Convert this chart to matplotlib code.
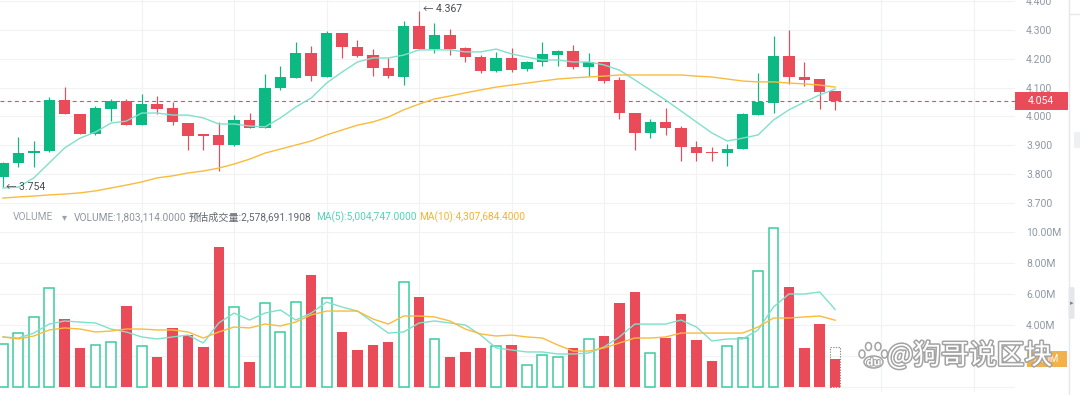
import numpy as np
import matplotlib
matplotlib.use("Agg")
import matplotlib.pyplot as plt
from matplotlib.patches import Rectangle, Ellipse, FancyBboxPatch
import matplotlib.transforms as mtransforms
import matplotlib.patheffects as pe

plt.rcParams['font.family'] = ['Roboto', 'Noto Sans CJK SC', 'DejaVu Sans']

# ---------------- data ----------------
opens = [3.790, 3.839, 3.873, 3.880, 4.057, 4.009, 3.939, 4.026, 4.054, 3.970,
         4.043, 4.029, 3.977, 3.939, 3.936, 3.901, 3.988, 3.960, 4.099, 4.134,
         4.220, 4.137, 4.290, 4.241, 4.213, 4.168, 4.137, 4.314, 4.234, 4.283,
         4.238, 4.206, 4.158, 4.203, 4.165, 4.189, 4.213, 4.227, 4.172, 4.189,
         4.127, 4.012, 3.943, 3.981, 3.960, 3.894, 3.877, 3.873, 3.887, 4.005,
         4.047, 4.210, 4.137, 4.130, 4.088]
highs = [3.842, 3.929, 3.915, 4.068, 4.102, 4.009, 4.036, 4.061, 4.061, 4.078,
         4.071, 4.050, 3.977, 3.939, 3.981, 4.005, 4.012, 4.147, 4.175, 4.258,
         4.245, 4.297, 4.290, 4.265, 4.234, 4.203, 4.331, 4.367, 4.324, 4.303,
         4.241, 4.213, 4.224, 4.238, 4.192, 4.258, 4.231, 4.248, 4.220, 4.189,
         4.137, 4.012, 3.991, 4.029, 3.967, 3.915, 3.894, 3.905, 4.012, 4.151,
         4.279, 4.300, 4.189, 4.130, 4.088]
lows = [3.754, 3.825, 3.825, 3.877, 4.009, 3.939, 3.936, 3.984, 3.970, 3.970,
        4.009, 3.970, 3.884, 3.884, 3.811, 3.898, 3.960, 3.960, 4.092, 4.134,
        4.123, 4.137, 4.203, 4.206, 4.140, 4.134, 4.109, 4.234, 4.220, 4.213,
        4.189, 4.151, 4.154, 4.154, 4.158, 4.175, 4.175, 4.165, 4.140, 4.116,
        3.991, 3.884, 3.925, 3.936, 3.846, 3.846, 3.846, 3.828, 3.887, 4.005,
        4.012, 4.113, 4.106, 4.026, 4.023]
closes = [3.839, 3.873, 3.880, 4.057, 4.009, 3.939, 4.029, 4.054, 3.970, 4.043,
          4.026, 3.981, 3.932, 3.932, 3.901, 3.988, 3.960, 4.099, 4.137, 4.220,
          4.140, 4.290, 4.241, 4.210, 4.168, 4.140, 4.314, 4.234, 4.283, 4.234,
          4.206, 4.158, 4.203, 4.161, 4.189, 4.217, 4.227, 4.172, 4.189, 4.123,
          4.012, 3.943, 3.981, 3.960, 3.894, 3.873, 3.873, 3.887, 4.009, 4.050,
          4.210, 4.137, 4.127, 4.085, 4.054]
ma_fast = [3.752, 3.755, 3.787, 3.839, 3.891, 3.925, 3.946, 3.977, 3.984, 4.012,
           4.012, 4.005, 4.005, 3.995, 3.974, 3.974, 3.967, 3.964, 3.995, 4.033,
           4.064, 4.116, 4.154, 4.189, 4.203, 4.203, 4.213, 4.231, 4.231, 4.231,
           4.224, 4.224, 4.234, 4.217, 4.206, 4.196, 4.196, 4.189, 4.189, 4.179,
           4.161, 4.127, 4.092, 4.057, 4.019, 3.981, 3.943, 3.915, 3.925, 3.936,
           3.988, 4.023, 4.050, 4.075, 4.095]
ma_slow = [3.717, 3.721, 3.724, 3.728, 3.731, 3.735, 3.742, 3.752, 3.762, 3.773,
           3.787, 3.794, 3.804, 3.811, 3.821, 3.835, 3.852, 3.873, 3.887, 3.901,
           3.915, 3.936, 3.953, 3.970, 3.981, 3.998, 4.023, 4.043, 4.061, 4.071,
           4.082, 4.092, 4.102, 4.109, 4.116, 4.123, 4.130, 4.134, 4.137, 4.140,
           4.144, 4.144, 4.144, 4.144, 4.144, 4.140, 4.137, 4.130, 4.123, 4.120,
           4.120, 4.116, 4.113, 4.109, 4.102]
# volumes in millions
volumes = [2.77, 3.48, 4.52, 6.39, 4.39, 2.52, 2.71, 2.90, 5.23, 2.65,
           1.94, 3.81, 3.35, 2.58, 9.03, 5.16, 1.61, 5.42, 3.55, 5.48,
           7.23, 5.74, 3.55, 2.39, 2.71, 2.90, 6.77, 5.81, 3.10, 1.94,
           2.26, 2.52, 2.65, 2.71, 1.42, 2.06, 1.94, 2.52, 3.10, 3.29,
           5.42, 6.13, 2.19, 3.16, 4.71, 3.03, 1.68, 2.65, 3.16, 7.48,
           10.26, 6.45, 2.52, 4.06, 1.803]
vol_ma5 = [3.23, 3.16, 3.48, 4.06, 4.26, 4.19, 4.13, 3.74, 3.55, 3.23,
           3.10, 3.23, 3.35, 2.84, 4.13, 4.77, 4.32, 4.77, 4.97, 4.32,
           4.77, 5.48, 5.16, 4.90, 4.19, 3.48, 3.55, 4.13, 4.26, 4.13,
           4.00, 3.35, 2.52, 2.39, 2.26, 2.26, 2.13, 2.13, 2.19, 2.58,
           3.23, 4.06, 4.06, 4.06, 4.32, 3.87, 2.97, 3.10, 3.10, 3.68,
           5.16, 6.00, 6.00, 6.13, 5.00]
vol_ma10 = [3.23, 3.10, 3.29, 3.68, 3.81, 3.74, 3.55, 3.61, 3.74, 3.74,
            3.68, 3.68, 3.55, 3.16, 3.55, 3.87, 3.81, 4.06, 3.94, 4.19,
            4.65, 4.90, 4.90, 4.90, 4.39, 4.06, 4.58, 4.58, 4.52, 4.26,
            3.74, 3.42, 3.29, 3.35, 3.23, 3.16, 2.71, 2.32, 2.32, 2.52,
            2.84, 3.16, 3.16, 3.23, 3.48, 3.48, 3.48, 3.48, 3.48, 3.87,
            4.45, 4.45, 4.52, 4.58, 4.31]
est_volume = 2.578691
price_ticks = [3.7, 3.8, 3.9, 4.0, 4.1, 4.2, 4.3, 4.4]
vol_ticks = [0, 2, 4, 6, 8, 10]
vol_tick_labels = ['', '', '4.00M', '6.00M', '8.00M', '10.00M']
legend_parts = [("VOLUME", '#9AA1AC'), ("\u25BE", '#9AA1AC'),
                ("VOLUME:1,803,114.0000", '#8D949F'),
                ("预估成交量:2,578,691.1908", '#62676F'),
                ("MA(5):5,004,747.0000", '#52D3B8'),
                ("MA(10):4,307,684.4000", '#F6B330')]
legend_x = [13, 62, 74, 189, 316, 419]
watermark = "@狗哥说区块"

# ---------------- style ----------------
GREEN = '#0CB983'
RED = '#E94B59'
GREEN_V = '#3DCB9E'
TEAL = '#7FE0CB'
ORANGE = '#F9BB3C'
GRID = '#F1F2F4'
TICK = '#8F98A5'

W, H = 1080, 395
fig = plt.figure(figsize=(W / 100, H / 100), dpi=100)
fig.patch.set_facecolor('white')
PLOT_R = 1015


def px_axes(x0, y0, x1, y1):
    return fig.add_axes([x0 / W, 1 - y1 / H, (x1 - x0) / W, (y1 - y0) / H])


ax = px_axes(0, 0, PLOT_R, 208)
axv = px_axes(0, 208, PLOT_R, 392)

n = len(closes)
x = np.arange(n)
o = np.array(opens); c = np.array(closes); h = np.array(highs); l = np.array(lows)
vol = np.array(volumes)
up = c > o

STEP = 15.41
x0 = -3 / STEP
xlim = (x0, x0 + PLOT_R / STEP)
PXPU = 288.3  # pixels per price unit
ax.set_ylim(4.3 - (208 - 30) / PXPU, 4.3 + 30 / PXPU)
VPX = 15.5
axv.set_ylim(-(392 - 387) / VPX, (387 - 208) / VPX)

for a in (ax, axv):
    a.set_xlim(*xlim)
    for s in a.spines.values():
        s.set_visible(False)
    a.set_xticks([])
    a.yaxis.tick_right()
    a.tick_params(axis='y', length=0, pad=8, labelsize=7.5, labelcolor=TICK)
    a.grid(axis='y', color=GRID, lw=0.8, zorder=0)
    a.set_axisbelow(True)
    for gx in range(9, 66, 6):
        a.axvline(gx, color=GRID, lw=0.8, zorder=0)

ax.set_yticks(price_ticks)
ax.set_yticklabels([f"{t:.3f}" for t in price_ticks])
axv.set_yticks(vol_ticks)
axv.set_yticklabels(vol_tick_labels)

# candles
cols = np.where(up, GREEN, RED)
ax.vlines(x, l, h, colors=cols, lw=0.85, zorder=2)
body_bot = np.minimum(o, c)
body_h = np.maximum(np.abs(c - o), 0.0035)
ax.bar(x, body_h, bottom=body_bot, width=0.74, color=cols, lw=0, zorder=3)

# moving averages
ax.plot(x, ma_fast, color=TEAL, lw=1.0, zorder=4)
ax.plot(x, ma_slow, color=ORANGE, lw=1.0, zorder=4)

# last price line and label
last = closes[-1]
ax.axhline(last, color=RED, lw=0.8, ls=(0, (3.5, 3)), zorder=1)
trans = mtransforms.blended_transform_factory(ax.transAxes, ax.transData)
bh = 18 / PXPU
ax.add_patch(Rectangle((1.0, last - bh / 2), 53 / PLOT_R, bh, transform=trans,
                       facecolor=RED, edgecolor='none', clip_on=False, zorder=6))
ax.text(1028 / PLOT_R, last, f"{last:.3f}", transform=trans, color='white',
        fontsize=7.5, va='center', ha='left', clip_on=False, zorder=7)

# high / low markers
ih = int(np.argmax(h)); il = int(np.argmin(l))
ax.annotate(f"\u2190 {h[ih]:.3f}", (ih, h[ih]), xytext=(2.5, 1), textcoords='offset points',
            va='center', ha='left', fontsize=7.5, color='#454A52', zorder=7)
ax.annotate(f"\u2190 {l[il]:.3f}", (il, l[il]), xytext=(2.5, 0), textcoords='offset points',
            va='center', ha='left', fontsize=7.5, color='#454A52', zorder=7)

# volume
axv.bar(n - 1, est_volume, width=0.68, fill=False, edgecolor='#8A8A8A',
        ls=(0, (1.2, 1.2)), lw=0.8, zorder=2)
axv.bar(x[~up], vol[~up], width=0.68, color=RED, lw=0, zorder=3)
axv.bar(x[up], vol[up], width=0.64, facecolor='white', edgecolor=GREEN_V, lw=1.1, zorder=3)
axv.plot(x, vol_ma5, color=TEAL, lw=1.0, zorder=4)
axv.plot(x, vol_ma10, color=ORANGE, lw=1.0, zorder=4)

# current volume label (orange)
vtrans = mtransforms.blended_transform_factory(axv.transAxes, axv.transData)
vbh = 16 / VPX
axv.add_patch(Rectangle(((1027 - PLOT_R) / PLOT_R + 1.0, volumes[-1] - vbh / 2), 40 / PLOT_R, vbh,
                        transform=vtrans, facecolor='#F2B24B', edgecolor='none',
                        clip_on=False, zorder=6))
axv.text(1031 / PLOT_R, volumes[-1], f"{volumes[-1]:.2f}M", transform=vtrans, color='white',
         fontsize=7, va='center', ha='left', clip_on=False, zorder=7)

# legend row
for (txt, col), lx in zip(legend_parts, legend_x):
    fig.text(lx / W, 1 - 217 / H, txt, color=col, fontsize=7.3, va='center', ha='left')

# decorations overlay (watermark, right-edge widgets)
deco = fig.add_axes([0, 0, 1, 1])
deco.set_xlim(0, W); deco.set_ylim(H, 0)
deco.axis('off'); deco.patch.set_visible(False)
deco.plot([1069, 1069], [0, H], color='#E6E8EB', lw=1)
deco.plot([1069, W], [14, 14], color='#E6E8EB', lw=1)
deco.add_patch(Rectangle((1074, 132), 6, 16, facecolor='#EEF0F2', edgecolor='none'))
deco.add_patch(FancyBboxPatch((1068.5, 287), 6, 32, boxstyle='round,pad=0,rounding_size=2',
                              facecolor='#E4E6E9', edgecolor='none'))
deco.text(1071.5, 303, "\u25B8", fontsize=5, color='#80868F', ha='center', va='center',
          family=['DejaVu Sans'])

stroke = [pe.withStroke(linewidth=2.2, foreground='#A3A3A3')]
deco.text(887, 356, watermark, fontsize=20, color='white', ha='left', va='center',
          family=['Noto Sans CJK SC', 'DejaVu Sans'], path_effects=stroke, zorder=10)
# baidu paw
for (ex, ey, ew, eh) in [(862, 354, 6, 8), (868.5, 346.5, 6, 8), (878, 346.5, 6, 8),
                         (884.5, 354, 6, 8)]:
    deco.add_patch(Ellipse((ex, ey), ew, eh, facecolor='white', edgecolor='#A3A3A3', lw=1.1, zorder=10))
deco.add_patch(Ellipse((873.5, 362), 19, 12, facecolor='white', edgecolor='#A3A3A3', lw=1.1, zorder=10))
deco.text(873.5, 362.5, "du", fontsize=7, color='white', ha='center', va='center',
          family=['DejaVu Sans'], weight='bold', path_effects=[pe.withStroke(linewidth=1.5, foreground='#A3A3A3')], zorder=11)

fig.savefig('out.png', dpi=100, facecolor='white')
